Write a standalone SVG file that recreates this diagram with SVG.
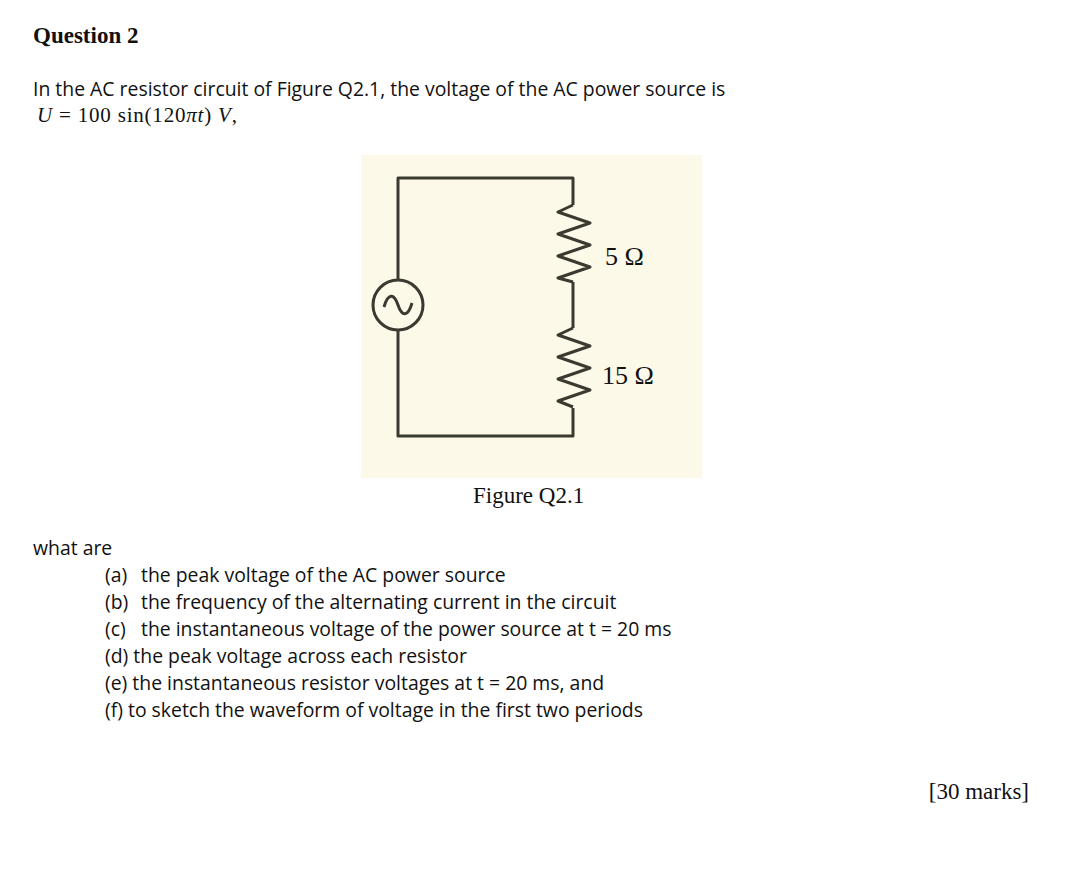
<svg xmlns="http://www.w3.org/2000/svg" width="1068" height="870" viewBox="0 0 1068 870">
<style>
.s{font-family:"Open Sans","DejaVu Sans",sans-serif;font-size:19.4px;fill:#111}
.t{font-family:"Liberation Serif",serif;fill:#111}
.w{fill:none;stroke:#3a3a30;stroke-width:3;stroke-linejoin:round}
</style>
<rect width="1068" height="870" fill="#fff"/>
<text class="t" x="33" y="43" font-size="23" font-weight="bold">Question 2</text>
<text class="s" x="33" y="96">In the AC resistor circuit of Figure Q2.1, the voltage of the AC power source is</text>
<text class="t" x="37" y="122" font-size="21" letter-spacing="0.8"><tspan font-style="italic">U</tspan> = 100 sin(120<tspan font-style="italic">πt</tspan>) <tspan font-style="italic">V</tspan>,</text>
<rect x="361" y="155" width="341" height="323" fill="#fdf9e8"/>
<g id="wires" class="w">
<path d="M398 279V178H573V205"/>
<path d="M398 331V436H573V408"/>
<path d="M573 282V328"/>
</g>
<g id="source">
<circle cx="398" cy="305" r="25" fill="#fdf9e8" stroke="#3a3a30" stroke-width="3"/>
<path d="M384 307c4-14 10-14 14-2s10 12 14-2" class="w"/>
</g>
<g id="r1"><path class="w" d="M573 205l-15 7 32 11-32 11 32 11-32 11 32 11-32 11 15 4"/></g>
<g id="r2"><path class="w" d="M573 328l-15 7 32 11-32 11 32 11-32 11 32 11-32 11 15 6"/></g>
<text class="t" x="605" y="265" font-size="26" fill="#333">5 Ω</text>
<text class="t" x="602" y="384" font-size="26" fill="#333">15 Ω</text>
<text class="t" x="473" y="503" font-size="23">Figure Q2.1</text>
<text class="s" x="33" y="555">what are</text>
<text class="s" y="582"><tspan x="105">(a)</tspan><tspan x="141">the peak voltage of the AC power source</tspan></text>
<text class="s" y="609"><tspan x="105">(b)</tspan><tspan x="141">the frequency of the alternating current in the circuit</tspan></text>
<text class="s" y="636"><tspan x="105">(c)</tspan><tspan x="141">the instantaneous voltage of the power source at t = 20 ms</tspan></text>
<text class="s" x="105" y="663">(d) the peak voltage across each resistor</text>
<text class="s" x="105" y="690">(e) the instantaneous resistor voltages at t = 20 ms, and</text>
<text class="s" x="105" y="717">(f) to sketch the waveform of voltage in the first two periods</text>
<text class="t" x="1029" y="799" font-size="23" text-anchor="end">[30 marks]</text>
</svg>
